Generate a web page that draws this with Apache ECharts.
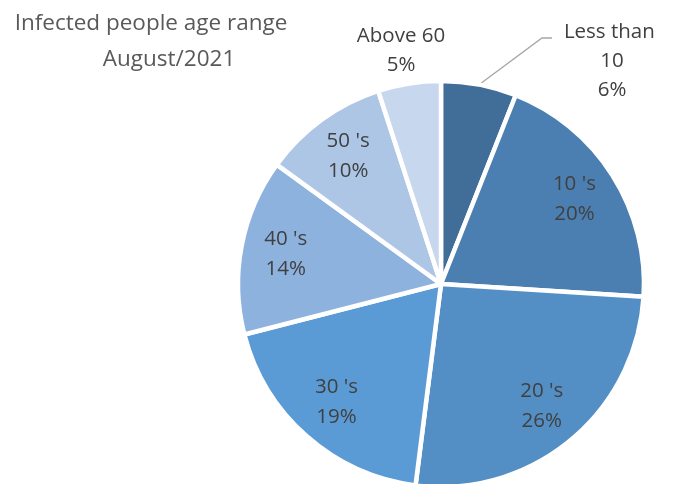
<!DOCTYPE html>
<html>
<head>
<meta charset="utf-8">
<script src="https://cdn.jsdelivr.net/npm/echarts@6/dist/echarts.min.js"></script>
<style>html,body{margin:0;padding:0;background:#fff}#c{width:674px;height:484px}</style>
</head>
<body>
<div id="c"></div>
<script>
const categories = ['Less than 10', "10 's", "20 's", "30 's", "40 's", "50 's", 'Above 60'];
const values = [6, 20, 26, 19, 14, 10, 5];
const colors = ['#416e99', '#4b7fb2', '#538fc5', '#5b9bd5', '#8db2de', '#adc6e6', '#c7d7ee'];
const titleLines = ['Infected people age range', 'August/2021'];

const FONT = 'Open Sans';
const chart = echarts.init(document.getElementById('c'));
const center = [441, 284];
const R = 203;

const mainData = categories.map((n, i) => {
  const d = { name: n, value: values[i], itemStyle: { color: colors[i] } };
  if (i === 0 || i === 6) {
    d.label = { show: true };
    d.labelLine = { show: i === 0 };
  } else {
    d.label = { show: false };
    d.labelLine = { show: false };
  }
  return d;
});
const labelData = categories.map((n, i) => ({
  name: n, value: values[i],
  label: { show: !(i === 0 || i === 6) }
}));

chart.setOption({
  animation: false,
  title: [
    { text: titleLines[0], left: 146, top: 7, textAlign: 'center',
      textStyle: { fontFamily: FONT, fontSize: 22.5, fontWeight: 'normal', color: '#595959' } },
    { text: titleLines[1], left: 164, top: 43, textAlign: 'center',
      textStyle: { fontFamily: FONT, fontSize: 22.5, fontWeight: 'normal', color: '#595959' } }
  ],
  series: [
    {
      type: 'pie',
      center: center,
      radius: R,
      startAngle: 90,
      clockwise: true,
      silent: true,
      itemStyle: { borderColor: '#ffffff', borderWidth: 4.5 },
      label: {
        position: 'outside',
        formatter: '{b}\n{c}%',
        fontFamily: FONT, fontSize: 20.5, color: '#404040',
        lineHeight: 29, align: 'center', width: 105, overflow: 'break'
      },
      labelLine: { lineStyle: { color: '#a6a6a6', width: 1.3 } },
      labelLayout: function (p) {
        if (p.dataIndex === 0) {
          return { x: 612, y: 61, align: 'center', verticalAlign: 'middle',
                   labelLinePoints: [[480, 84], [542, 38], [552, 38]] };
        }
        if (p.dataIndex === 6) {
          return { x: 401, y: 51, align: 'center', verticalAlign: 'middle' };
        }
      },
      data: mainData
    },
    {
      type: 'pie',
      center: center,
      radius: [110, 200],
      startAngle: 90,
      clockwise: true,
      silent: true,
      itemStyle: { color: 'rgba(0,0,0,0)' },
      label: {
        position: 'inside',
        formatter: '{b}\n{c}%',
        fontFamily: FONT, fontSize: 20.5, color: '#404040',
        lineHeight: 30, align: 'center'
      },
      labelLine: { show: false },
      data: labelData
    }
  ]
});
</script>
</body>
</html>
